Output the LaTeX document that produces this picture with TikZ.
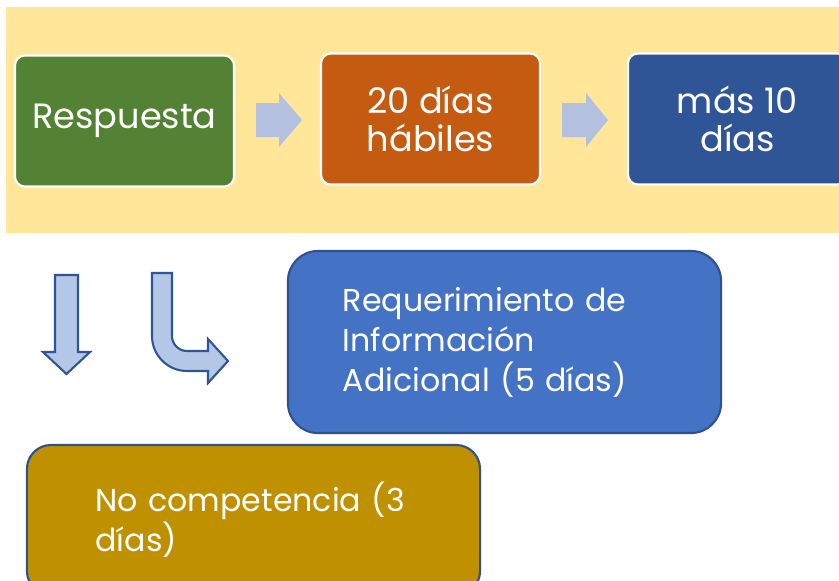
\documentclass[tikz,border=0pt]{standalone}
\usepackage{fontspec}
\setmainfont{Poppins}
\definecolor{fondo}{HTML}{FFE699}
\definecolor{verde}{HTML}{548235}
\definecolor{naranja}{HTML}{C55A11}
\definecolor{azul}{HTML}{2F5597}
\definecolor{azulclaro}{HTML}{4472C4}
\definecolor{borde}{HTML}{2F528F}
\definecolor{ocre}{HTML}{BF9000}
\definecolor{flechagris}{HTML}{B4C0DF}
\definecolor{flechaazul}{HTML}{B4C7E7}
\begin{document}
\begin{tikzpicture}[
    x=0.025cm, y=-0.025cm,
    caja/.style={draw=white, line width=1.5pt, rounded corners=0.25cm,
        minimum width=5.475cm, minimum height=3.275cm, text=white,
        align=center, font=\fontsize{25}{27}\selectfont},
    bloque/.style={draw=borde, line width=1.5pt, text=white, align=left,
        font=\fontsize{22.5}{28.5}\selectfont},
    chevron/.style={fill=flechagris},
    flecha/.style={fill=flechaazul, draw=azul, line width=1.5pt, line join=miter}]
    \useasboundingbox (0,0) rectangle (839,580);
    \clip (0,0) rectangle (839,580);

    % Fondo
    \fill[fondo] (6,7) rectangle (839,233);

    % Pasos
    \node[caja, fill=verde] (respuesta) at (124.5,121) {Respuesta};
    \node[caja, fill=naranja] (habiles) at (430.5,119) {20 días\\hábiles};
    \node[caja, fill=azul] (mas) at (737.5,119) {más 10\\días};

    % Flechas
    \fill[chevron] (256,103) -- (279,103) -- (279,93) -- (302,120)
                   -- (279,147) -- (279,137) -- (256,137) -- cycle;
    \fill[chevron] (562,103) -- (586,103) -- (586,93) -- (608,120)
                   -- (586,147) -- (586,137) -- (562,137) -- cycle;

    % Abajo
    \draw[flecha] (55,275) -- (78,275) -- (78,352) -- (90,352) -- (66.5,374)
                  -- (43,352) -- (55,352) -- cycle;
    \draw[flecha] (152,273) -- (172,273) -- (172,336)
                  .. controls (172,344.3) and (178.7,351) .. (187,351)
                  -- (208,351) -- (208,339) -- (228,361) -- (208,383) -- (208,371)
                  -- (187,371) .. controls (167.7,371) and (152,355.3) .. (152,336)
                  -- cycle;

    % Casos
    \node[bloque, fill=azulclaro, rounded corners=0.75cm, text width=8.075cm,
          inner xsep=1.375cm, minimum height=4.55cm] (requerimiento) at (504.5,342)
          {Requerimiento de\\Información\\Adicional (5 días)};
    \node[bloque, fill=ocre, rounded corners=0.6cm, text width=7.9cm,
          inner xsep=1.7125cm, minimum height=3.75cm] (competencia) at (253.5,520)
          {No competencia (3\\días)};
\end{tikzpicture}
\end{document}
